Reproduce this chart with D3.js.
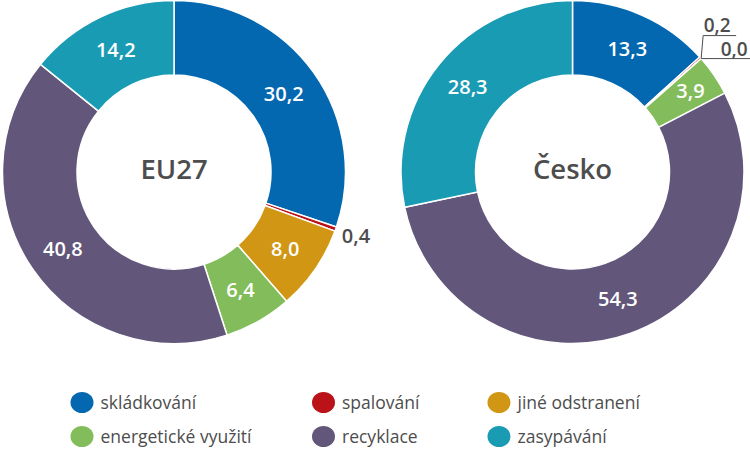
<!DOCTYPE html>
<html><head><meta charset="utf-8">
<script src="https://cdn.jsdelivr.net/npm/d3@7"></script>
<style>
body{margin:0;background:#fff;}
svg{display:block;}
</style></head>
<body>
<svg id="chart" width="750" height="450"></svg>
<script>
const categories = ["skládkování","spalování","jiné odstranení","energetické využití","recyklace","zasypávání"];
const colors = ["#0468b1","#bb1219","#d19614","#83bd5b","#62577a","#1a9bb4"];
const eu27Values = [30.2, 0.4, 8.0, 6.4, 40.8, 14.2];
const ceskoValues = [13.3, 0.2, 0.0, 3.9, 54.3, 28.3];
const chartTitles = ["EU27","Česko"];

const svg = d3.select("#chart");
const fmt = v => d3.format(".1f")(v).replace(".", ",");
const outerR = 171.5, innerR = 97, labelR = 135;
const pie = d3.pie().sort(null).value(d => d.value);
const arc = d3.arc().innerRadius(innerR).outerRadius(outerR);
const FONT = "'Open Sans', sans-serif";

function donut(values, title, cx, cy, opts) {
  const g = svg.append("g").attr("transform", `translate(${cx},${cy})`);
  const data = pie(values.map((v,i)=>({value:v, cat:categories[i], i})));
  g.selectAll("path").data(data).join("path")
    .attr("d", arc)
    .attr("fill", d => colors[d.data.i])
    .attr("stroke", "#fff")
    .attr("stroke-width", 1.5);
  g.append("text").text(title)
    .attr("text-anchor","middle").attr("y",-3).attr("dy","0.36em")
    .attr("font-family",FONT).attr("font-weight",600)
    .attr("font-size",27.5).attr("fill","#4d4d4d");
  data.forEach(d => {
    const a = (d.startAngle + d.endAngle)/2;
    const o = opts[d.data.i] || {};
    if (o.skip) return;
    const r = o.r || labelR;
    const x = Math.sin(a)*r, y = -Math.cos(a)*r;
    g.append("text").text(fmt(d.data.value))
      .attr("x", x + (o.dx||0)).attr("y", y + (o.dy||0))
      .attr("text-anchor","middle").attr("dy","0.36em")
      .attr("font-family",FONT).attr("font-weight",600)
      .attr("font-size",20).attr("fill", o.outside ? "#4d4d4d" : "#fff");
  });
  return {g, data};
}

donut(eu27Values, chartTitles[0], 174, 172, {1:{r:193, outside:true}});
const cz = donut(ceskoValues, chartTitles[1], 572.5, 172, {1:{skip:true},2:{skip:true},3:{r:143}});

// leader lines for tiny Česko slices
{
  const d = cz.data[1];
  const a = d.endAngle;
  const px = Math.sin(a)*outerR, py = -Math.cos(a)*outerR;
  const g = cz.g;
  const line = d3.line();
  g.append("path").attr("d", line([[px,py],[px+2,py-23],[px+35,py-23]]))
    .attr("fill","none").attr("stroke","#4d4d4d").attr("stroke-width",1);
  g.append("path").attr("d", line([[px,py],[px+50,py]]))
    .attr("fill","none").attr("stroke","#4d4d4d").attr("stroke-width",1);
  g.append("text").text(fmt(ceskoValues[1])).attr("x",px+16).attr("y",py-27)
    .attr("text-anchor","middle")
    .attr("font-family",FONT).attr("font-weight",600)
    .attr("font-size",19).attr("fill","#4d4d4d");
  g.append("text").text(fmt(ceskoValues[2])).attr("x",px+33).attr("y",py-3)
    .attr("text-anchor","middle")
    .attr("font-family",FONT).attr("font-weight",600)
    .attr("font-size",19).attr("fill","#4d4d4d");
}

// legend
const legX = [82, 323.5, 499], legY = [402.5, 436.5];
categories.forEach((c,i) => {
  const col = i % 3, row = Math.floor(i/3);
  const g = svg.append("g").attr("transform", `translate(${legX[col]},${legY[row]})`);
  g.append("ellipse").attr("rx",11.5).attr("ry",10.5).attr("fill",colors[i]);
  g.append("text").text(c).attr("x",18.5).attr("dy","0.35em")
    .attr("font-family",FONT).attr("font-size",17.5)
    .attr("fill","#4d4d4d");
});
</script>
</body></html>
